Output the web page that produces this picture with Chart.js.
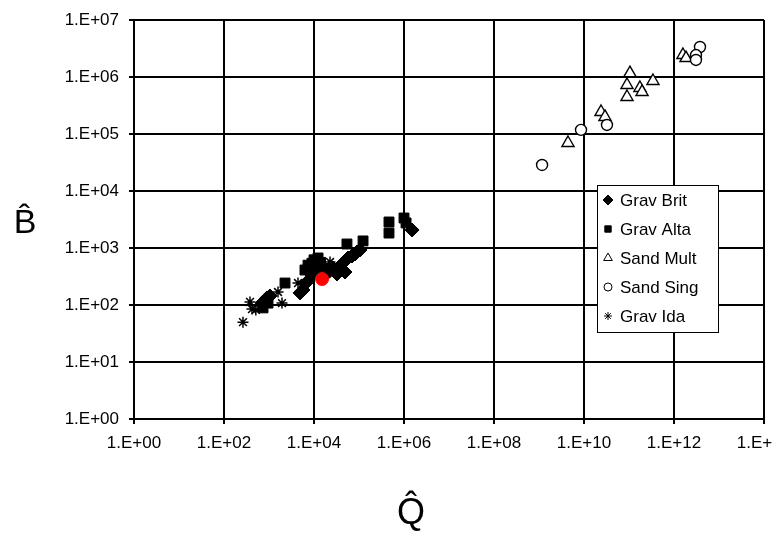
<!DOCTYPE html>
<html lang="en">
<head>
    <meta charset="UTF-8">
    <title>B vs Q</title>
    <script src="https://cdn.jsdelivr.net/npm/chart.js"></script>
    <style>
    body {
        margin: 0;
        background: #fff;
        overflow: hidden;
    }
    .wrap {
        width: 772px;
        height: 540px;
        overflow: hidden;
    }
</style>
</head>
<body>
    <div class="wrap">
        <canvas id="bqChart" width="800" height="540"></canvas>
    </div>

    <script>
        // gravel-bed rivers, Britain
        const britQ = [700, 900, 1050, 4900, 5700, 6600, 9000, 12300, 19400, 26400, 32400, 37800, 46400, 48900, 57000, 70000, 81500, 90300, 105000, 1510000, 10500, 22000, 15000];
        const britB = [108, 133, 144, 163, 183, 243, 336, 380, 410, 446, 350, 483, 568, 379, 668, 724, 785, 851, 923, 2070, 470, 390, 360];

        // gravel-bed rivers, Alberta
        const altaQ = [736, 950, 2270, 6300, 7360, 9000, 12300, 54000, 123000, 464000, 464000, 1000000, 1110000, 10000, 14000, 8000];
        const altaB = [89, 108, 243, 411, 500, 540, 668, 1175, 1330, 2860, 1830, 3360, 2750, 620, 560, 450];

        // sand-bed rivers, multiple thread
        const multQ = [4.41e9, 2.39e10, 2.93e10, 1.05e11, 9.03e10, 9.03e10, 1.75e11, 1.95e11, 3.41e11, 1.58e12, 1.85e12];
        const multB = [6.95e4, 2.43e5, 1.99e5, 1.17e6, 7.24e5, 4.46e5, 6.41e5, 5.46e5, 8.5e5, 2.43e6, 2.15e6];

        // sand-bed rivers, single thread
        const singQ = [1.17e9, 8.58e9, 3.24e10, 3.78e12, 3.08e12, 3.08e12];
        const singB = [2.86e4, 1.18e5, 1.44e5, 3.36e6, 2.43e6, 1.99e6];

        // gravel-bed rivers, Idaho
        const idaQ = [264, 378, 419, 510, 631, 1585, 1945, 4410, 12300, 22700];
        const idaB = [50, 113, 85, 82, 96, 169, 108, 243, 568, 568];

        // highlighted reach
        const markQ = [15100];
        const markB = [286];

        const xTicks = [1e0, 1e2, 1e4, 1e6, 1e8, 1e10, 1e12, 1e14];
        const yTicks = [1e0, 1e1, 1e2, 1e3, 1e4, 1e5, 1e6, 1e7];

        const seriesNames = ['Grav Brit', 'Grav Alta', 'Sand Mult', 'Sand Sing', 'Grav Ida'];

        const FONT = '"Liberation Sans", Arial, sans-serif';

        function pairs(qs, bs) {
            return qs.map((q, i) => ({ x: q, y: bs[i] }));
        }

        function expLabel(v) {
            const e = Math.round(Math.log10(v));
            return '1.E+' + String(e).padStart(2, '0');
        }

        const styles = [
            { pointStyle: 'rectRot', pointRadius: 7, backgroundColor: '#000', borderColor: '#000', borderWidth: 1 },
            { pointStyle: 'rect', pointRadius: 7, backgroundColor: '#000', borderColor: '#000', borderWidth: 1 },
            { pointStyle: 'triangle', pointRadius: 7, backgroundColor: '#fff', borderColor: '#000', borderWidth: 1.4 },
            { pointStyle: 'circle', pointRadius: 5.5, backgroundColor: '#fff', borderColor: '#000', borderWidth: 1.4 },
            { pointStyle: 'star', pointRadius: 5.5, backgroundColor: '#000', borderColor: '#000', borderWidth: 1.5 }
        ];

        const legendRadius = [5, 4.5, 5, 4, 4];

        const seriesData = [
            pairs(britQ, britB),
            pairs(altaQ, altaB),
            pairs(multQ, multB),
            pairs(singQ, singB),
            pairs(idaQ, idaB)
        ];

        const datasets = seriesNames.map((name, i) => Object.assign({
            label: name,
            data: seriesData[i],
            order: 5 - i
        }, styles[i]));

        datasets.push({
            label: 'mark',
            data: pairs(markQ, markB),
            pointStyle: 'circle',
            pointRadius: 6.5,
            backgroundColor: '#ff0000',
            borderColor: '#ff0000',
            borderWidth: 1,
            order: 0
        });

        // legend box inside the plot plus the two axis titles
        const extrasPlugin = {
            id: 'extras',
            afterDraw(chart) {
                const ctx = chart.ctx;
                ctx.save();

                const lx = 597, ly = 185, lw = 121, lh = 147;
                ctx.fillStyle = '#fff';
                ctx.fillRect(lx, ly, lw, lh);
                ctx.strokeStyle = '#000';
                ctx.lineWidth = 1;
                ctx.strokeRect(lx + 0.5, ly + 0.5, lw, lh);

                ctx.font = '17px ' + FONT;
                ctx.textBaseline = 'middle';
                ctx.textAlign = 'left';
                seriesNames.forEach((name, i) => {
                    const y = ly + 15 + i * 29;
                    const st = styles[i];
                    ctx.fillStyle = st.backgroundColor;
                    ctx.strokeStyle = st.borderColor;
                    ctx.lineWidth = 1;
                    Chart.helpers.drawPoint(ctx, {
                        pointStyle: st.pointStyle,
                        radius: legendRadius[i],
                        rotation: 0,
                        borderWidth: 1
                    }, lx + 11, y);
                    ctx.fillStyle = '#000';
                    ctx.fillText(name, lx + 23, y + 1);
                });

                ctx.fillStyle = '#000';
                ctx.textAlign = 'center';
                ctx.font = '34px ' + FONT;
                ctx.fillText('B\u0302', 25, 224);
                ctx.font = '36px ' + FONT;
                ctx.fillText('Q\u0302', 411, 514);
                ctx.restore();
            }
        };

        const ctx = document.getElementById('bqChart').getContext('2d');
        const bqChart = new Chart(ctx, {
            type: 'scatter',
            data: { datasets: datasets },
            options: {
                responsive: false,
                animation: false,
                devicePixelRatio: 1,
                layout: {
                    padding: { left: 0, top: 20, right: 36, bottom: 0 }
                },
                plugins: {
                    legend: { display: false },
                    tooltip: { enabled: false }
                },
                scales: {
                    x: {
                        type: 'logarithmic',
                        min: 1e0,
                        max: 1e14,
                        afterBuildTicks: function(scale) {
                            scale.ticks = xTicks.map(v => ({ value: v }));
                        },
                        afterFit: function(scale) {
                            scale.height = 121;
                            scale.paddingLeft = 0;
                            scale.paddingRight = 0;
                        },
                        ticks: {
                            callback: function(value) { return expLabel(value); },
                            color: '#000',
                            font: { size: 17, family: FONT },
                            padding: 9,
                            maxRotation: 0,
                            autoSkip: false
                        },
                        grid: {
                            color: '#000',
                            lineWidth: 2,
                            tickLength: 5
                        },
                        border: { color: '#000', width: 2 }
                    },
                    y: {
                        type: 'logarithmic',
                        min: 1e0,
                        max: 1e7,
                        afterBuildTicks: function(scale) {
                            scale.ticks = yTicks.map(v => ({ value: v }));
                        },
                        afterFit: function(scale) {
                            scale.width = 134;
                            scale.paddingTop = 0;
                            scale.paddingBottom = 0;
                        },
                        ticks: {
                            callback: function(value) { return expLabel(value); },
                            color: '#000',
                            font: { size: 17, family: FONT },
                            padding: 10,
                            autoSkip: false
                        },
                        grid: {
                            color: '#000',
                            lineWidth: 2,
                            tickLength: 5
                        },
                        border: { color: '#000', width: 2 }
                    }
                }
            },
            plugins: [extrasPlugin]
        });
    </script>
</body>
</html>
